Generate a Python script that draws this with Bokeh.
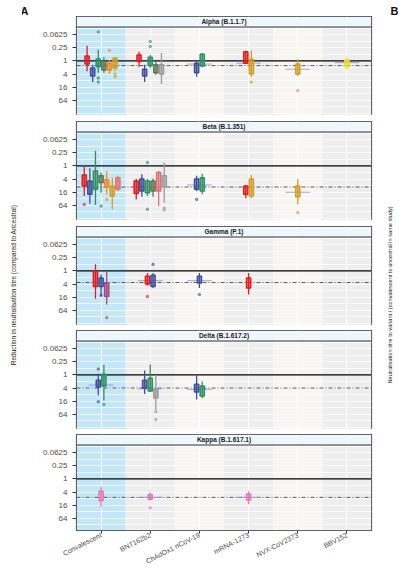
import math
import numpy as np
from bokeh.plotting import figure
from bokeh.layouts import column, row
from bokeh.models import (Range1d, FixedTicker, BoxAnnotation, Span, Title,
                          Label, ColumnDataSource)
from bokeh.embed import file_html
from bokeh.resources import INLINE

# ---------------- data ----------------
categories = ["Convalescent", "BNT162b2", "ChAdOx1 nCoV-19", "mRNA-1273",
              "NVX-CoV2373", "BBV152"]
y_ticks = [0.0625, 0.25, 1, 4, 16, 64]
y_tick_labels = ["0.0625", "0.25", "1", "4", "16", "64"]
variants = ["Alpha (B.1.1.7)", "Beta (B.1.351)", "Gamma (P.1)",
            "Delta (B.1.617.2)", "Kappa (B.1.617.1)"]
reference_fold = [1.64, 9.2, 3.4, 4.0, 7.0]
left_title = "Reduction in neutralisation titre (compared to Ancestral)"
right_title = "Neutralisation titre to variant / (convalescent to ancestral in same study)"

alpha_cat = [0, 0, 0, 0, 0, 0, 1, 1, 1, 1, 1, 2, 2, 3, 3, 4, 5]
alpha_col = ["red", "blue", "green", "olive", "orange", "gold",
             "red", "blue", "green", "olive", "gray",
             "blue", "green", "red", "gold", "gold", "yellow"]
alpha_lo = [0.2, 1.5, 0.31, 0.66, 0.9, 0.68, 0.38, 1.5, 0.54, 1.07, 0.43,
            1.07, 0.44, 0.34, 0.33, 0.84, 0.68]
alpha_q1 = [0.59, 2.1, 0.81, 1.07, 1.27, 0.76, 0.54, 2.4, 0.68, 1.5, 1.5,
            1.27, 0.5, 0.38, 0.84, 1.38, 0.9]
alpha_q3 = [1.38, 4.9, 1.87, 2.6, 2.6, 2.1, 1.07, 4.9, 1.6, 3.5, 4.0,
            3.5, 1.7, 1.27, 4.0, 4.0, 1.83]
alpha_hi = [3.0, 9.2, 3.5, 3.5, 4.0, 3.0, 1.87, 9.2, 2.1, 4.3, 11.3,
            5.3, 1.83, 1.38, 5.3, 4.9, 2.4]
alpha_out = [[], [], [0.047, 6.1, 9.2], [], [0.33], [4.0, 5.3],
             [], [], [0.13, 0.22], [], [], [], [], [], [9.2], [22.6], []]
alpha_pool_cat = [2, 3, 4, 5]
alpha_pool = [1.4, 1.27, 2.4, 1.2]

beta_cat = [0, 0, 0, 0, 0, 0, 0, 1, 1, 1, 1, 1, 1, 2, 2, 3, 3, 4]
beta_col = ["red", "blue", "green", "olive", "orange", "gold", "salmon",
            "red", "blue", "green", "olive", "salmon", "gray",
            "blue", "green", "red", "gold", "gold"]
beta_lo = [0.9, 1.27, 0.2, 2.0, 1.7, 3.5, 2.8, 4.0, 2.4, 4.0, 3.8, 1.7, 0.7,
           2.8, 2.3, 7.5, 2.6, 4.0]
beta_q1 = [2.6, 4.9, 1.7, 2.8, 4.3, 8.3, 3.5, 4.9, 4.0, 4.9, 4.9, 2.0, 2.8,
           4.0, 3.5, 8.3, 4.0, 8.3]
beta_q3 = [8.3, 19.7, 11.8, 5.7, 9.2, 24, 11.8, 18.4, 14, 16.8, 14, 14, 9.2,
           11.8, 14, 19.7, 24, 26]
beta_hi = [24, 54, 62, 16.8, 19.7, 97, 14, 34, 26, 24, 26, 69, 48,
           14, 19.7, 30, 30, 58]
beta_out = [[58], [], [], [69], [34], [], [], [], [], [0.7, 97], [], [],
            [84, 104], [34], [], [], [], [137]]
beta_pool_cat = [2, 4]
beta_pool = [7.5, 16]

gamma_cat = [0, 0, 0, 1, 1, 2, 3]
gamma_col = ["red", "blue", "purple", "red", "blue", "blue", "red"]
gamma_lo = [0.5, 1.46, 1.04, 1.23, 1.23, 1.23, 1.23]
gamma_q1 = [1.04, 2.1, 3.6, 1.74, 1.58, 1.74, 2.1]
gamma_q3 = [5.1, 5.1, 14.9, 4.0, 5.1, 3.6, 6.1]
gamma_hi = [19, 14.9, 34, 4.6, 6.1, 6.1, 12]
gamma_out = [[], [13], [137], [14.9], [0.5], [12], []]
gamma_pool_cat = [1, 2]
gamma_pool = [2.8, 2.8]

delta_cat = [0, 0, 1, 1, 1, 2, 2]
delta_col = ["blue", "green", "blue", "green", "gray", "blue", "green"]
delta_lo = [0.87, 0.34, 0.62, 0.33, 1.0, 0.93, 2.0]
delta_q1 = [1.74, 0.93, 1.74, 1.41, 4.6, 2.7, 3.2]
delta_q3 = [3.6, 3.2, 4.1, 5.5, 11.3, 6.1, 9.2]
delta_hi = [8.6, 14.9, 7.5, 6.1, 39, 13.5, 11.3]
delta_out = [[0.54, 17], [22.6], [], [], [48, 111], [], []]
delta_pool_cat = [0, 1, 2]
delta_pool = [2.9, 4.3, 4.6]

kappa_cat = [0, 1, 3]
kappa_col = ["pink", "pink", "pink"]
kappa_lo = [2.3, 4.2, 3.7]
kappa_q1 = [3.7, 5.3, 4.9]
kappa_q3 = [9.8, 8.6, 9.2]
kappa_hi = [19, 9.8, 14.4]
kappa_out = [[], [21], []]
kappa_pool_cat = [1, 3]
kappa_pool = [7.0, 7.0]

# ---------------- styles ----------------
palette = {"red": "#e41a1c", "blue": "#3e4f9c", "green": "#2b9160",
           "olive": "#5b775a", "orange": "#f58b1f", "gold": "#d29e25",
           "salmon": "#e07272", "gray": "#9a9a9a", "purple": "#a8477f",
           "pink": "#e879b6", "yellow": "#f3df1c"}
column_fill = ["#c3e7f9", "#eeeeee", "#f7f6f3", "#eeeeee", "#f7f6f3", "#eeeeee"]
FONT = "Liberation Sans"
Y_TOP, STRIP_TOP = -5.15, -6.75
PX_PER_UNIT = 6.58
DODGE = 0.114


def make_panel(k, cat, col, lo, q1, q3, hi, out, pool_cat, pool,
               top_border, frame_h, bottom_border, last=False):
    y_bottom = STRIP_TOP + frame_h / PX_PER_UNIT
    p = figure(width=358, height=top_border + frame_h + bottom_border,
               x_range=Range1d(0.5, 6.5), y_range=Range1d(y_bottom, STRIP_TOP),
               output_backend="svg", toolbar_location=None, tools="", title=None,
               x_axis_location="below" if last else None,
               min_border_left=54, min_border_right=9,
               min_border_top=top_border, min_border_bottom=bottom_border)
    p.background_fill_color = "white"
    p.border_fill_color = "white"
    p.outline_line_color = "#333333"
    p.outline_line_width = 1.2

    ya = p.yaxis[0]
    ya.ticker = FixedTicker(ticks=[int(round(math.log2(t))) for t in y_ticks])
    ya.major_label_overrides = {int(round(math.log2(t))): lab
                                for t, lab in zip(y_ticks, y_tick_labels)}
    ya.axis_line_color = None
    ya.major_tick_out = 4
    ya.major_tick_in = 0
    ya.minor_tick_line_color = None
    ya.major_tick_line_color = "#333333"
    ya.major_label_text_font_size = "8px"
    ya.major_label_text_color = "#4d4d4d"
    ya.major_label_text_font = FONT
    ya.major_label_standoff = 5

    p.ygrid.ticker = FixedTicker(ticks=list(range(-5, 9)))
    p.ygrid.grid_line_color = "white"
    p.ygrid.grid_line_width = 0.7
    p.xgrid.ticker = FixedTicker(ticks=list(range(1, 7)))
    p.xgrid.grid_line_color = "white"
    p.xgrid.grid_line_width = 1

    for i, c in enumerate(column_fill):
        p.add_layout(BoxAnnotation(left=i + 0.5, right=i + 1.5, top=Y_TOP,
                                   bottom=y_bottom, fill_color=c, fill_alpha=1,
                                   line_color=None, level="image"))
    p.add_layout(Span(location=0, dimension="width", line_color="black",
                      line_width=1.4, level="underlay"))
    p.add_layout(Span(location=math.log2(reference_fold[k]), dimension="width",
                      line_color="#333333", line_width=0.8,
                      line_dash="4 2 1 2", level="underlay"))

    pc = np.array(pool_cat) + 1
    p.segment(x0=pc - 0.25, x1=pc + 0.25, y0=np.log2(pool), y1=np.log2(pool),
              line_color="#8c96d0", line_width=1, line_alpha=0.85)

    cat = np.array(cat)
    xs = []
    for i, c in enumerate(cat):
        n = int((cat == c).sum())
        j = int((cat[:i] == c).sum())
        xs.append(c + 1 + (j - (n - 1) / 2) * DODGE)
    colors = [palette[c] for c in col]
    src = ColumnDataSource(dict(x=xs, lo=np.log2(lo), hi=np.log2(hi),
                                q1=np.log2(q1), q3=np.log2(q3), color=colors))
    p.segment(x0="x", x1="x", y0="lo", y1="hi", line_color="color",
              line_width=1.3, source=src)
    p.vbar(x="x", width=0.085, top="q1", bottom="q3", fill_color="color",
           fill_alpha=0.55, line_color="color", line_width=1.5, source=src)

    ox, oy, oc = [], [], []
    for x, vals, c in zip(xs, out, colors):
        for v in vals:
            ox.append(x)
            oy.append(math.log2(v))
            oc.append(c)
    if ox:
        p.scatter(x=ox, y=oy, size=2.5, color=oc, alpha=0.55)

    # facet strip
    p.add_layout(BoxAnnotation(top=STRIP_TOP, bottom=Y_TOP, fill_color="#eef7fb",
                               fill_alpha=1, line_color=None))
    p.add_layout(Span(location=Y_TOP, dimension="width", line_color="#333333",
                      line_width=1))
    p.add_layout(Label(x=3.5, y=(STRIP_TOP + Y_TOP) / 2, text=variants[k],
                       text_align="center", text_baseline="middle",
                       text_font_size="6.5px", text_font_style="bold",
                       text_color="#1a1a1a", text_font=FONT))

    if last:
        xa = p.xaxis[0]
        xa.ticker = FixedTicker(ticks=list(range(1, 7)))
        xa.major_label_overrides = {i + 1: c for i, c in enumerate(categories)}
        xa.major_label_orientation = 0.47
        xa.major_label_text_font_size = "7px"
        xa.major_label_text_font = FONT
        xa.major_label_text_color = "#4d4d4d"
        xa.major_label_standoff = 1
        xa.major_tick_out = 3
        xa.major_tick_in = 0
        xa.axis_line_color = None
        xa.minor_tick_line_color = None
        xa.major_tick_line_color = "#333333"
    return p


def blank_fig(width, height, side, b_left, b_right, b_top, b_bottom):
    f = figure(width=width, height=height, x_range=Range1d(0, 1),
               y_range=Range1d(0, 1), output_backend="svg",
               toolbar_location=None, tools="", title=None,
               x_axis_location=None, y_axis_location=side,
               min_border_left=b_left, min_border_right=b_right,
               min_border_top=b_top, min_border_bottom=b_bottom)
    f.outline_line_color = None
    f.background_fill_color = None
    f.border_fill_color = "white"
    f.grid.visible = False
    return f


def title_axis(f, text, standoff, orientation, size):
    ax = f.yaxis[0]
    ax.ticker = FixedTicker(ticks=[])
    ax.axis_line_color = None
    ax.major_tick_out = 0
    ax.major_tick_in = 0
    ax.minor_tick_line_color = None
    ax.major_label_text_font_size = "0px"
    ax.major_label_standoff = 0
    ax.axis_label = text
    ax.axis_label_standoff = standoff
    ax.axis_label_orientation = orientation
    ax.axis_label_text_font_size = size
    ax.axis_label_text_font_style = "normal"
    ax.axis_label_text_font = FONT
    ax.axis_label_text_color = "#1a1a1a"


p1 = make_panel(0, alpha_cat, alpha_col, alpha_lo, alpha_q1, alpha_q3, alpha_hi,
                alpha_out, alpha_pool_cat, alpha_pool, 16, 99, 0)
p2 = make_panel(1, beta_cat, beta_col, beta_lo, beta_q1, beta_q3, beta_hi,
                beta_out, beta_pool_cat, beta_pool, 6, 99, 0)
p3 = make_panel(2, gamma_cat, gamma_col, gamma_lo, gamma_q1, gamma_q3, gamma_hi,
                gamma_out, gamma_pool_cat, gamma_pool, 6, 99, 0)
p4 = make_panel(3, delta_cat, delta_col, delta_lo, delta_q1, delta_q3, delta_hi,
                delta_out, delta_pool_cat, delta_pool, 5, 99, 0)
p5 = make_panel(4, kappa_cat, kappa_col, kappa_lo, kappa_q1, kappa_q3, kappa_hi,
                kappa_out, kappa_pool_cat, kappa_pool, 5, 96, 42, last=True)

p1.add_layout(Title(text="A", align="left", offset=-56, standoff=0,
                    text_font_size="11px", text_font_style="bold",
                    text_font=FONT, text_color="#111111"), "above")

# left shared title (centred on its frame)
left_fig = blank_fig(22, 572, "left", 20, 0, 0, 3)
title_axis(left_fig, left_title, 4, "parallel", "6.5px")

# right: panel letter B on top, then the right shared title
b_fig = blank_fig(19, 20, None, 0, 17, 16, 0)
b_fig.add_layout(Title(text="B", align="left", offset=10, standoff=0,
                       text_font_size="11px", text_font_style="bold",
                       text_font=FONT, text_color="#111111"), "above")
right_fig = blank_fig(19, 552, "right", 0, 17, 174, 0)
title_axis(right_fig, right_title, 7, math.pi / 2, "5.6px")

layout = row(left_fig, column(p1, p2, p3, p4, p5, spacing=0),
             column(b_fig, right_fig, spacing=0), spacing=0)
open("out.html", "w").write(file_html(layout, INLINE))
